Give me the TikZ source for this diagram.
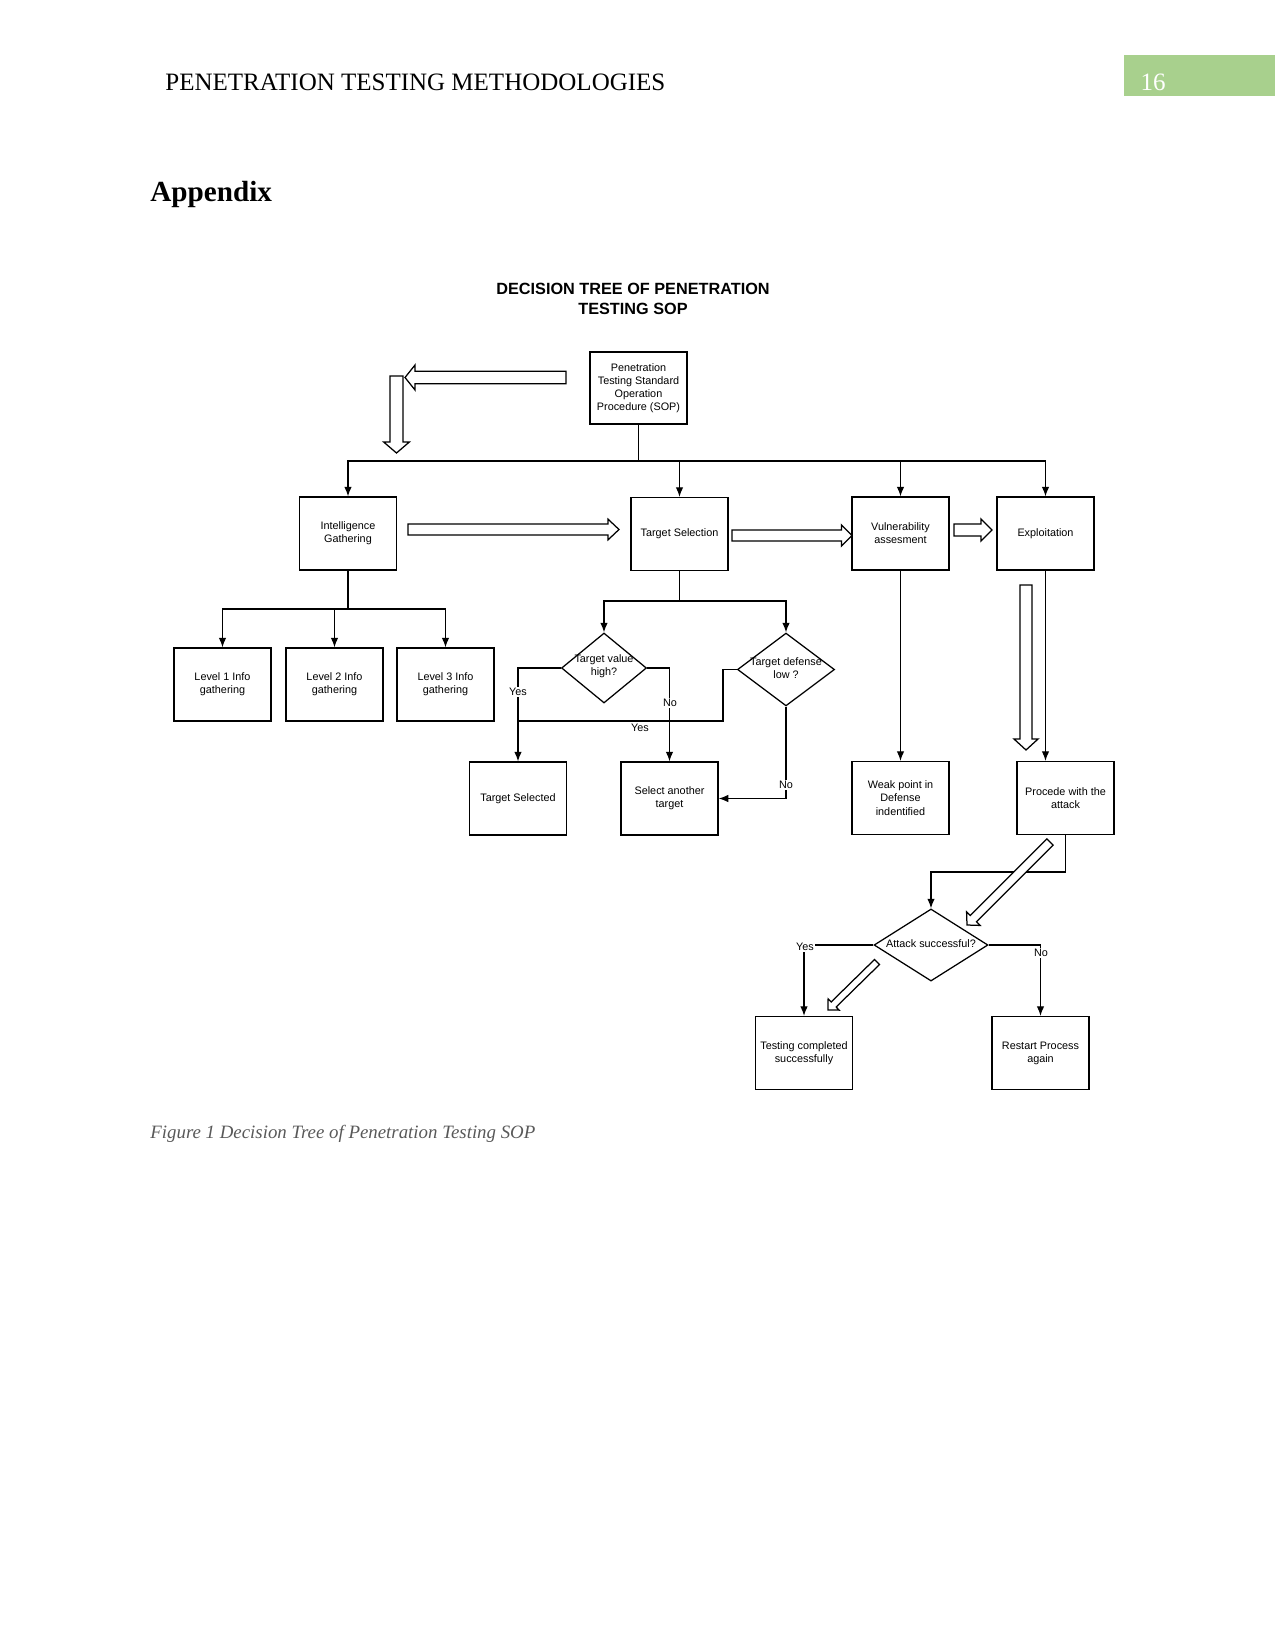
\documentclass[tikz,border=0pt]{standalone}
\usepackage{fontspec}
\setmainfont{Liberation Serif}
\newfontfamily\dsans{Liberation Sans}
\usetikzlibrary{shapes.geometric,calc,arrows.meta}
\definecolor{hdrgreen}{RGB}{168,208,141}
\definecolor{capgray}{RGB}{89,89,89}

% block (hollow) arrow: #1 tail coordinate, #2 tip coordinate,
% #3 shaft half width, #4 head half width, #5 head length
\newcommand\blockarrow[5]{%
  \coordinate (ba-h) at ($(#2)!#5!(#1)$);
  \draw[hollow] ($(#1)!#3!90:(#2)$) -- ($(ba-h)!#3!90:(#2)$) -- ($(ba-h)!#4!90:(#2)$)
    -- (#2) -- ($(ba-h)!#4!-90:(#2)$) -- ($(ba-h)!#3!-90:(#2)$) -- ($(#1)!#3!-90:(#2)$) -- cycle;
}

\tikzset{
  dfont/.style={font=\dsans\fontsize{5.2}{6.3}\selectfont},
  box/.style={draw, line width=0.6pt, minimum width=46.6pt, minimum height=35pt,
    inner sep=1pt, align=center, dfont},
  dia/.style={draw, diamond, line width=0.6pt, inner sep=0pt},
  dtext/.style={dfont, align=center, inner sep=0pt},
  lbl/.style={dfont, inner sep=0.6pt, fill=white},
  conn/.style={line width=0.6pt, -{Latex[length=4.6pt,width=3.6pt]}},
  wire/.style={line width=0.6pt},
  hollow/.style={draw, fill=white, line width=0.6pt, line join=miter},
}

\begin{document}
\begin{tikzpicture}[x=0.48pt, y=-0.48pt]
\useasboundingbox (0,0) rectangle (1275,1651);

% page header
\fill[hdrgreen] (1124,55) rectangle (1275,96);
\node[anchor=base west, inner sep=0pt, font=\fontsize{12}{14}\selectfont] (hdr) at (165,90.5) {PENETRATION TESTING METHODOLOGIES};
\node[anchor=base, inner sep=0pt, text=white, font=\fontsize{12}{14}\selectfont] (pg) at (1153,90.5) {16};
\node[anchor=base west, inner sep=0pt, font=\bfseries\fontsize{14}{16}\selectfont] (app) at (150,202) {Appendix};

% diagram title
\node[align=center, inner sep=0pt, font=\dsans\bfseries\fontsize{7.8}{9.3}\selectfont] (title) at (633,299) {DECISION TREE OF PENETRATION\\TESTING SOP};

% boxes
\node[box, minimum height=34.6pt] (sop) at (638.5,388) {Penetration\\Testing Standard\\Operation\\Procedure (SOP)};
\node[box] (intel) at (348,533.5) {Intelligence\\Gathering};
\node[box] (tsel) at (679.5,534) {Target Selection};
\node[box] (vuln) at (900.5,533.5) {Vulnerability\\assesment};
\node[box] (expl) at (1045.5,533.5) {Exploitation};
\node[box] (l1) at (222.5,684.5) {Level 1 Info\\gathering};
\node[box] (l2) at (334.5,684.5) {Level 2 Info\\gathering};
\node[box] (l3) at (445.5,684.5) {Level 3 Info\\gathering};
\node[box] (tsd) at (518,798.5) {Target Selected};
\node[box] (sat) at (669.5,798.5) {Select another\\target};
\node[box] (weak) at (900.5,798) {Weak point in\\Defense\\indentified};
\node[box] (proc) at (1065.5,798) {Procede with the\\attack};
\node[box] (test) at (804,1053) {Testing completed\\successfully};
\node[box] (restart) at (1040.5,1053) {Restart Process\\again};

% diamonds
\node[dia, minimum width=40.8pt, minimum height=33.6pt] (d1) at (604,668) {};
\node[dtext] (d1t) at (604,666.5) {Target value\\high?};
\node[dia, minimum width=46.6pt, minimum height=35pt] (d2) at (786,669.5) {};
\node[dtext] (d2t) at (786,668) {Target defense\\low ?};
\node[dia, minimum width=54.7pt, minimum height=34.6pt] (d3) at (931,945) {};
\node[dtext] (d3t) at (931,944) {Attack successful?};

% connector junctions
\coordinate (bus) at (638.5,461);
\coordinate (ibus) at (348,609);
\coordinate (tbus) at (679.5,601);
\coordinate (d2bend) at (723,721);
\coordinate (yesjoin) at (518,721);
\coordinate (pbend) at (1065.5,872);

% connectors
\draw[wire] (sop.south) -- (bus);
\draw[conn] (bus) -| (intel.north);
\draw[conn] (bus) -| (tsel.north);
\draw[conn] (bus) -| (vuln.north);
\draw[conn] (bus) -| (expl.north);

\draw[wire] (intel.south) -- (ibus);
\draw[conn] (ibus) -| (l1.north);
\draw[conn] (ibus) -| (l2.north);
\draw[conn] (ibus) -| (l3.north);

\draw[wire] (tsel.south) -- (tbus);
\draw[conn] (tbus) -| (d1.north);
\draw[conn] (tbus) -| (d2.north);

\draw[conn] (d1.west) -| (tsd.north);
\draw[conn] (d1.east) -| (sat.north);
\draw[wire] (d2.west) -| (d2bend) -- (yesjoin);
\draw[conn] (d2.south) |- (sat.east);

\draw[conn] (vuln.south) -- (weak.north);
\draw[conn] (expl.south) -- (expl.south |- proc.north);

\draw[wire] (proc.south) -- (pbend);
\draw[conn] (pbend) -| (d3.north);
\draw[conn] (d3.west) -| (test.north);
\draw[conn] (d3.east) -| (restart.north);

% connector labels
\node[lbl] (y1) at (518,692) {Yes};
\node[lbl] (n1) at (670,703) {No};
\node[dfont, inner sep=0pt] (y2) at (640,728) {Yes};
\node[lbl] (n2) at (786,785) {No};
\node[lbl] (y3) at (805,947) {Yes};
\node[lbl] (n3) at (1041,953) {No};

% hollow block arrows
\coordinate (a1s) at (566,377.5);  \coordinate (a1e) at (405,377.5);
\coordinate (a2s) at (396.5,376);  \coordinate (a2e) at (396.5,453);
\coordinate (a3s) at (408,529.5);  \coordinate (a3e) at (619,529.5);
\coordinate (a4s) at (732,535.5);  \coordinate (a4e) at (852,535.5);
\coordinate (a5s) at (954,530);    \coordinate (a5e) at (992,530);
\coordinate (a6s) at (1026,585);   \coordinate (a6e) at (1026,750);
\coordinate (a7s) at (1050,842);   \coordinate (a7e) at (967,925);
\coordinate (a8s) at (877,962);    \coordinate (a8e) at (828,1010);
\blockarrow{a1s}{a1e}{2.95pt}{6pt}{4.8pt}
\blockarrow{a2s}{a2e}{3.1pt}{6.2pt}{5.3pt}
\blockarrow{a3s}{a3e}{2.6pt}{5pt}{5.3pt}
\blockarrow{a4s}{a4e}{2.6pt}{5.1pt}{5.1pt}
\blockarrow{a5s}{a5e}{2.9pt}{5.3pt}{5.3pt}
\blockarrow{a6s}{a6e}{2.9pt}{5.8pt}{5.3pt}
\blockarrow{a7s}{a7e}{2.1pt}{4.6pt}{4.3pt}
\blockarrow{a8s}{a8e}{1.7pt}{3.8pt}{3.8pt}

% caption
\node[anchor=base west, inner sep=0pt, text=capgray, font=\itshape\fontsize{9.05}{11}\selectfont] (cap) at (150,1138) {Figure 1 Decision Tree of Penetration Testing SOP};
\end{tikzpicture}
\end{document}
